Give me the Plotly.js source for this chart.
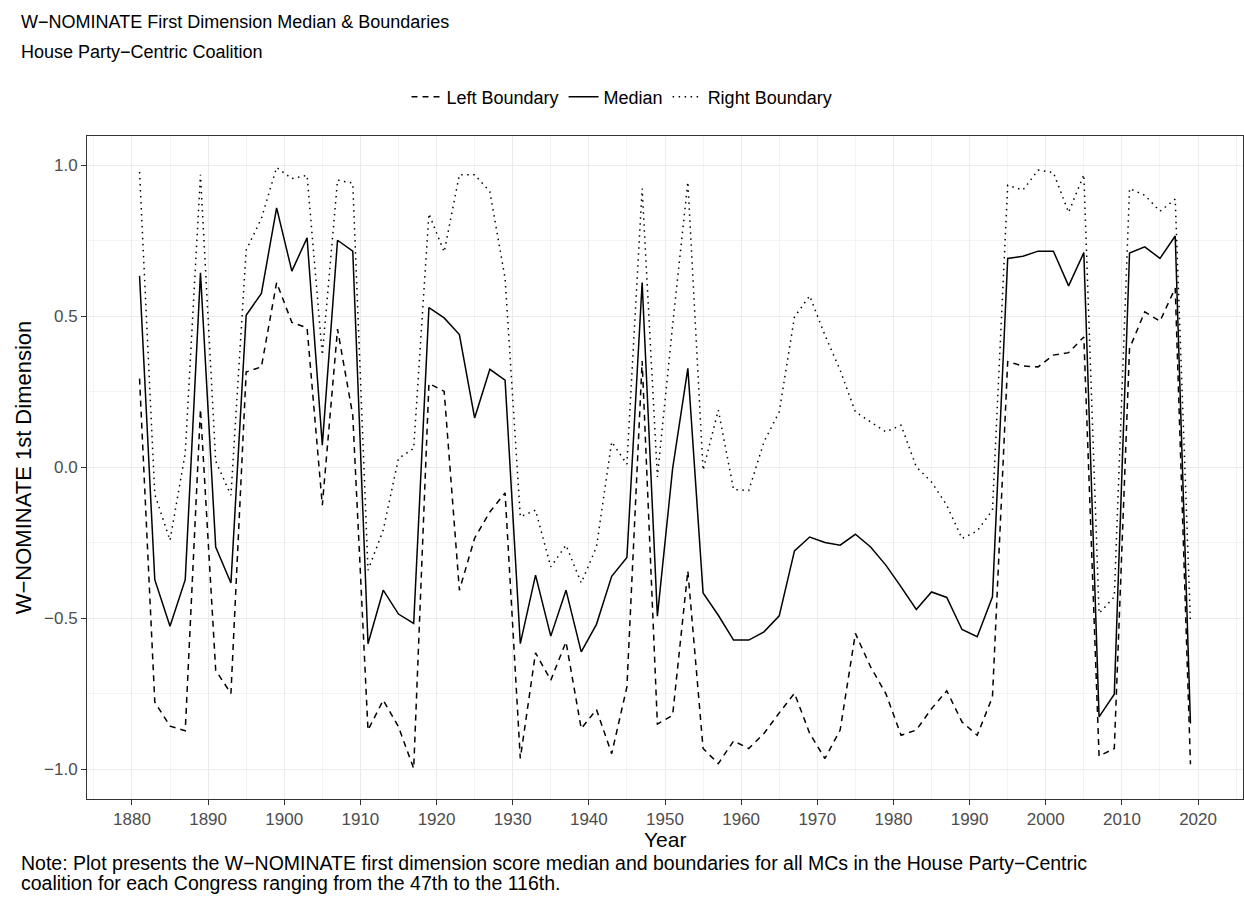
<!DOCTYPE html>
<html>
<head>
<meta charset="utf-8">
<script src="https://cdn.plot.ly/plotly-3.0.1.min.js"></script>
<style>
  html, body { margin: 0; padding: 0; background: #ffffff; }
  #chart { width: 1244px; height: 903px; }
</style>
</head>
<body>
<div id="chart"></div>
<script>
// First year of each House Congress, 47th (1881) through 116th (2019)
const years = [
  1881, 1883, 1885, 1887, 1889, 1891, 1893, 1895, 1897, 1899,
  1901, 1903, 1905, 1907, 1909, 1911, 1913, 1915, 1917, 1919,
  1921, 1923, 1925, 1927, 1929, 1931, 1933, 1935, 1937, 1939,
  1941, 1943, 1945, 1947, 1949, 1951, 1953, 1955, 1957, 1959,
  1961, 1963, 1965, 1967, 1969, 1971, 1973, 1975, 1977, 1979,
  1981, 1983, 1985, 1987, 1989, 1991, 1993, 1995, 1997, 1999,
  2001, 2003, 2005, 2007, 2009, 2011, 2013, 2015, 2017, 2019
];

// Coalition median, first dimension
const medianScore = [
  0.633, -0.372, -0.526, -0.372, 0.643, -0.264, -0.383, 0.503, 0.575, 0.858,
  0.649, 0.759, 0.073, 0.751, 0.715, -0.584, -0.407, -0.486, -0.517, 0.528,
  0.494, 0.439, 0.163, 0.324, 0.288, -0.584, -0.357, -0.559, -0.407, -0.611,
  -0.520, -0.361, -0.299, 0.611, -0.493, -0.005, 0.327, -0.416, -0.490, -0.572,
  -0.572, -0.545, -0.492, -0.277, -0.231, -0.249, -0.258, -0.222, -0.264, -0.324,
  -0.396, -0.471, -0.413, -0.431, -0.537, -0.561, -0.429, 0.691, 0.698, 0.715,
  0.715, 0.600, 0.710, -0.826, -0.751, 0.709, 0.729, 0.691, 0.765, -0.848
];

// Left boundary of the coalition
const leftBoundary = [
  0.293, -0.777, -0.857, -0.872, 0.192, -0.672, -0.749, 0.315, 0.332, 0.611,
  0.479, 0.461, -0.126, 0.457, 0.172, -0.870, -0.771, -0.859, -0.997, 0.277,
  0.251, -0.407, -0.235, -0.148, -0.085, -0.964, -0.614, -0.705, -0.578, -0.865,
  -0.802, -0.948, -0.727, 0.351, -0.850, -0.821, -0.343, -0.931, -0.981, -0.906,
  -0.931, -0.881, -0.813, -0.748, -0.881, -0.964, -0.870, -0.550, -0.661, -0.749,
  -0.887, -0.870, -0.799, -0.740, -0.843, -0.887, -0.760, 0.349, 0.335, 0.332,
  0.371, 0.379, 0.431, -0.956, -0.931, 0.393, 0.514, 0.483, 0.593, -0.983
];

// Right boundary of the coalition
const rightBoundary = [
  0.977, -0.090, -0.242, 0.046, 0.968, 0.020, -0.093, 0.718, 0.823, 0.992,
  0.955, 0.966, 0.371, 0.950, 0.940, -0.341, -0.208, 0.029, 0.062, 0.839,
  0.712, 0.968, 0.968, 0.912, 0.625, -0.164, -0.142, -0.330, -0.258, -0.383,
  -0.264, 0.084, 0.010, 0.922, -0.032, 0.470, 0.944, -0.010, 0.189, -0.074,
  -0.077, 0.084, 0.183, 0.497, 0.567, 0.437, 0.321, 0.183, 0.150, 0.117,
  0.139, 0.001, -0.049, -0.126, -0.236, -0.211, -0.142, 0.933, 0.917, 0.983,
  0.975, 0.843, 0.968, -0.484, -0.429, 0.922, 0.900, 0.847, 0.887, -0.515
];

const seriesNames = ['Left Boundary', 'Median', 'Right Boundary'];
const yTicks = [-1.0, -0.5, 0.0, 0.5, 1.0];
const yTickText = ['\u22121.0', '\u22120.5', '0.0', '0.5', '1.0'];
const xTicks = [1880, 1890, 1900, 1910, 1920, 1930, 1940, 1950, 1960, 1970, 1980, 1990, 2000, 2010, 2020];

const titleLines = ['W\u2212NOMINATE First Dimension Median &amp; Boundaries', 'House Party\u2212Centric Coalition'];
const xTitle = 'Year';
const yTitle = 'W\u2212NOMINATE 1st Dimension';
const noteLines = [
  'Note: Plot presents the W\u2212NOMINATE first dimension score median and boundaries for all MCs in the House Party\u2212Centric',
  'coalition for each Congress ranging from the 47th to the 116th.'
];

const FONT = '"Liberation Sans", Arial, Helvetica, sans-serif';
const LW = 1.5;

const traces = [
  { x: years, y: leftBoundary, name: seriesNames[0], type: 'scatter', mode: 'lines',
    line: { color: '#000000', width: LW, dash: '6px,5px' } },
  { x: years, y: medianScore, name: seriesNames[1], type: 'scatter', mode: 'lines',
    line: { color: '#000000', width: LW } },
  { x: years, y: rightBoundary, name: seriesNames[2], type: 'scatter', mode: 'lines',
    line: { color: '#000000', width: LW, dash: '1.5px,4.5px' } }
];

// plot area spans 87..1243 px horizontally and 136..799 px vertically
const PX = (px) => (px - 87) / 1156;
const PY = (py) => (799 - py) / 663;

const textNote = (text, px, py, size) => ({
  text: text, xref: 'paper', yref: 'paper', x: PX(px), y: PY(py),
  xanchor: 'left', yanchor: 'middle', showarrow: false,
  font: { family: FONT, size: size, color: '#000000' }
});

const layout = {
  width: 1244,
  height: 903,
  paper_bgcolor: '#ffffff',
  plot_bgcolor: '#ffffff',
  font: { family: FONT, color: '#000000' },
  margin: { l: 87, r: 1, t: 136, b: 104, pad: 0 },
  showlegend: true,
  legend: {
    orientation: 'h',
    x: PX(622), xanchor: 'center',
    y: PY(97), yanchor: 'middle',
    font: { family: FONT, size: 18, color: '#000000' },
    itemwidth: 30,
    tracegroupgap: 0,
    bgcolor: 'rgba(0,0,0,0)'
  },
  xaxis: {
    range: [1874.1, 2025.9],
    tickmode: 'array',
    tickvals: xTicks,
    ticks: 'outside', ticklen: 5, tickwidth: 1, tickcolor: '#333333',
    tickfont: { family: FONT, size: 17, color: '#4d4d4d' },
    showgrid: true, gridcolor: '#ebebeb', gridwidth: 1.1,
    minor: { dtick: 5, tick0: 1875, showgrid: true, gridcolor: '#f3f3f3', gridwidth: 0.8, ticks: '' },
    zeroline: false,
    showline: true, mirror: true, linecolor: '#333333', linewidth: 1
  },
  yaxis: {
    range: [-1.098, 1.096],
    tickmode: 'array',
    tickvals: yTicks,
    ticktext: yTickText,
    ticks: 'outside', ticklen: 5, tickwidth: 1, tickcolor: '#333333',
    tickfont: { family: FONT, size: 17, color: '#4d4d4d' },
    showgrid: true, gridcolor: '#ebebeb', gridwidth: 1.1,
    minor: { dtick: 0.25, tick0: 0, showgrid: true, gridcolor: '#f3f3f3', gridwidth: 0.8, ticks: '' },
    zeroline: false,
    showline: true, mirror: true, linecolor: '#333333', linewidth: 1,
    title: { text: yTitle, font: { family: FONT, size: 22, color: '#000000' }, standoff: 6 }
  },
  annotations: [
    textNote(titleLines[0], 19, 22, 18),
    textNote(titleLines[1], 19, 52, 18),
    { text: xTitle, xref: 'paper', yref: 'paper', x: 0.5, y: PY(839),
      xanchor: 'center', yanchor: 'middle', showarrow: false,
      font: { family: FONT, size: 21, color: '#000000' } },
    textNote(noteLines[0], 19, 863, 19.5),
    textNote(noteLines[1], 19, 883, 19.5)
  ]
};

Plotly.newPlot('chart', traces, layout, { displayModeBar: false, responsive: false });
</script>
</body>
</html>
